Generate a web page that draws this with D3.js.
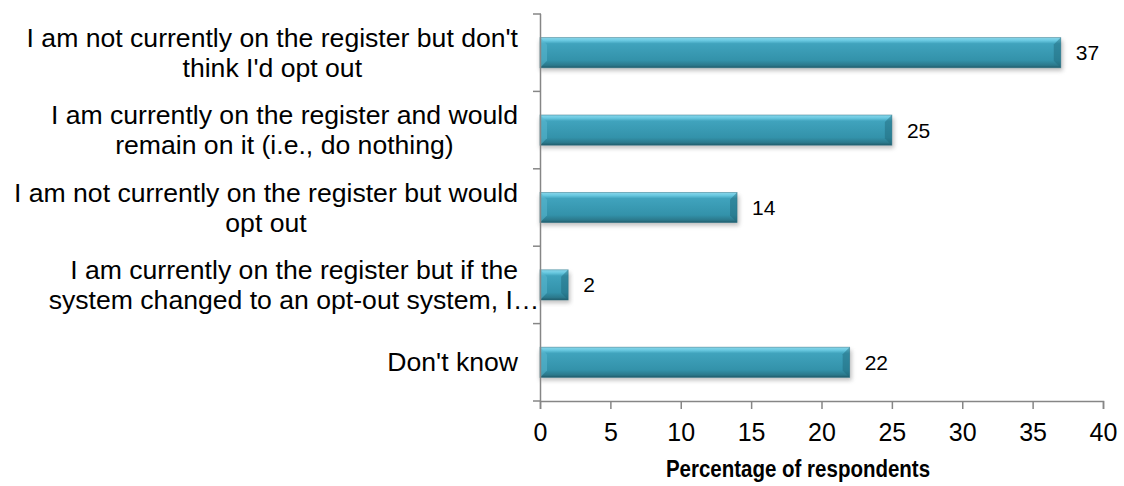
<!DOCTYPE html>
<html lang="en">
  <head>
    <meta charset="UTF-8" />
    <title>Opt-out register chart</title>
    <script src="https://d3js.org/d3.v7.min.js"></script>
    <style>
      body { margin: 0; background: #fff; }
      svg { display: block; font-family: Arial, "Liberation Sans", sans-serif; }
    </style>
  </head>
  <body>
    <script>
      // chart data
      const categories = [
        ["I am not currently on the register but don't", "think I'd opt out"],
        ["I am currently on the register and would", "remain on it (i.e., do nothing)"],
        ["I am not currently on the register but would", "opt out"],
        ["I am currently on the register but if the", "system changed to an opt-out system, I\u2026"],
        ["Don't know"]
      ];
      const values = [37, 25, 14, 2, 22];
      const xTicks = [0, 5, 10, 15, 20, 25, 30, 35, 40];
      const xTitle = "Percentage of respondents";

      const W = 1124, H = 486;
      const svg = d3.select("body").append("svg").attr("width", W).attr("height", H);

      const x = d3.scaleLinear().domain([0, 40]).range([540, 1103]);
      const y = d3.scaleBand()
        .domain(d3.range(categories.length))
        .range([14, 401])
        .paddingInner(0.61)
        .paddingOuter(0.305);

      // gradients and shadow
      const defs = svg.append("defs");
      const grad = defs.append("linearGradient")
        .attr("id", "barGrad").attr("x1", 0).attr("y1", 0).attr("x2", 0).attr("y2", 1);
      [[0, "#8ad6ea"], [0.1, "#68c8e0"], [0.2, "#40a3bd"], [0.75, "#3392aa"], [0.92, "#2b788b"], [1, "#1f5a69"]]
        .forEach(s => grad.append("stop").attr("offset", s[0]).attr("stop-color", s[1]));
      const shadow = defs.append("filter").attr("id", "shadow")
        .attr("x", "-10%").attr("y", "-30%").attr("width", "120%").attr("height", "180%");
      shadow.append("feGaussianBlur").attr("stdDeviation", 2.2);

      const bars = svg.append("g");
      const bw = y.bandwidth();
      const bev = 7;

      values.forEach((v, i) => {
        const x0 = x(0), x1 = x(v), y0 = y(i), y1 = y(i) + bw;
        const g = bars.append("g");
        g.append("rect")
          .attr("x", x0).attr("y", y0 + 3).attr("width", x1 - x0 + 2).attr("height", bw)
          .attr("fill", "#8c8c8c").attr("opacity", 0.55).attr("filter", "url(#shadow)");
        g.append("rect")
          .attr("x", x0).attr("y", y0).attr("width", x1 - x0).attr("height", bw)
          .attr("fill", "url(#barGrad)");
        // bevelled ends
        g.append("polygon")
          .attr("points", [[x0, y0], [x0 + bev, y0 + bev], [x0 + bev, y1 - bev], [x0, y1]].join(" "))
          .attr("fill", "#5bb8d0").attr("opacity", 0.55);
        g.append("polygon")
          .attr("points", [[x1, y0], [x1 - bev, y0 + bev], [x1 - bev, y1 - bev], [x1, y1]].join(" "))
          .attr("fill", "#1f6577").attr("opacity", 0.45);
        g.append("rect")
          .attr("x", x0).attr("y", y0).attr("width", x1 - x0).attr("height", bw)
          .attr("fill", "none").attr("stroke", "#2b7387").attr("stroke-width", 0.8).attr("opacity", 0.6);
      });

      // value labels
      svg.append("g").selectAll("text").data(values).join("text")
        .attr("x", d => x(d) + 15)
        .attr("y", (d, i) => y(i) + bw / 2 + 7.5)
        .attr("font-size", 21)
        .attr("fill", "#000")
        .text(d => d);

      // axes
      const axisColor = "#868686";
      const step = y.step();
      const yAxis = svg.append("g");
      yAxis.append("line")
        .attr("x1", 540.5).attr("x2", 540.5).attr("y1", 14).attr("y2", 401)
        .attr("stroke", axisColor).attr("stroke-width", 1.5);
      yAxis.selectAll("line.tick").data(d3.range(categories.length + 1)).join("line")
        .attr("class", "tick")
        .attr("x1", 533).attr("x2", 541)
        .attr("y1", d => 14 + d * step).attr("y2", d => 14 + d * step)
        .attr("stroke", axisColor).attr("stroke-width", 1.5);

      const xAxis = svg.append("g").attr("transform", "translate(0,401)")
        .call(d3.axisBottom(x).tickValues(xTicks).tickSize(8).tickPadding(14));
      xAxis.select(".domain").attr("stroke", axisColor).attr("stroke-width", 1.5);
      xAxis.selectAll(".tick line").attr("stroke", axisColor).attr("stroke-width", 1.5);
      xAxis.selectAll(".tick text")
        .attr("font-size", 25).attr("font-family", "Arial, 'Liberation Sans', sans-serif")
        .attr("fill", "#000");

      // axis title, a little taller than wide like the source
      svg.append("text")
        .attr("transform", "translate(798,477) scale(1,1.15)")
        .attr("text-anchor", "middle")
        .attr("font-size", 20.5).attr("font-weight", "bold")
        .text(xTitle);

      // category labels: lines centred on a block right-aligned near the axis
      const labelRight = 518, lineH = 30;
      categories.forEach((lines, i) => {
        const t = svg.append("text").attr("font-size", 26.6).attr("fill", "#000").attr("text-anchor", "middle");
        const spans = lines.map(l => t.append("tspan").text(l));
        const w = spans[0].node().getComputedTextLength();
        const cx = labelRight - w / 2;
        const cy = y(i) + bw / 2;
        const first = cy - (lines.length - 1) * lineH / 2 + 9;
        spans.forEach((s, k) => s.attr("x", cx).attr("y", first + k * lineH));
      });
    </script>
  </body>
</html>
